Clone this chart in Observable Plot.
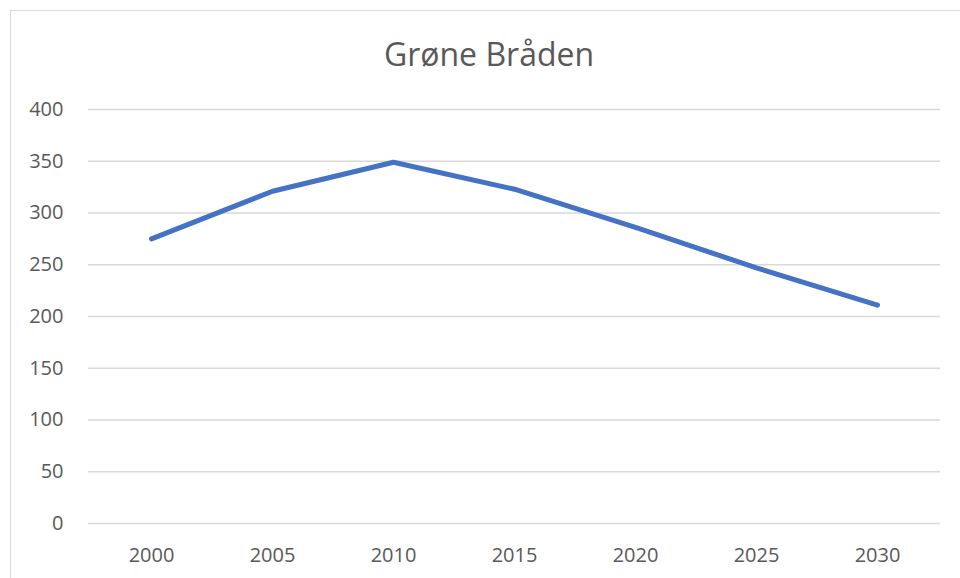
<!DOCTYPE html>
<html>
<head>
<meta charset="utf-8">
<script src="https://cdn.jsdelivr.net/npm/d3@7"></script>
<script src="https://cdn.jsdelivr.net/npm/@observablehq/plot@0.6"></script>
<style>
  html, body { margin: 0; padding: 0; background: #fff; }
  body { width: 960px; height: 578px; position: relative; overflow: hidden; font-family: "Open Sans", sans-serif; }
  #frame { position: absolute; left: 10px; top: 10px; width: 980px; height: 600px; border-left: 1px solid #d9d9d9; border-top: 1px solid #d9d9d9; box-sizing: border-box; }
  #title { position: absolute; left: 0; top: 34px; width: 978px; text-align: center; font-size: 32px; line-height: 40px; color: #595959; font-family: "Open Sans", sans-serif; }
  #chart { position: absolute; left: 0; top: 0; }
</style>
</head>
<body>
<div id="frame"></div>
<div id="chart"></div>
<div id="title">Grøne Bråden</div>
<script>
const years = ["2000", "2005", "2010", "2015", "2020", "2025", "2030"];
const values = [275, 321, 349, 323, 286, 247, 211];
const yTicks = [0, 50, 100, 150, 200, 250, 300, 350, 400];

const data = years.map((year, i) => ({year, value: values[i]}));

const plot = Plot.plot({
  width: 960,
  height: 578,
  marginLeft: 88,
  marginRight: 20,
  marginTop: 109,
  marginBottom: 55,
  style: {fontFamily: "'Open Sans', sans-serif", fontSize: "20px", color: "#595959", background: "transparent", overflow: "visible"},
  x: {type: "point", domain: years, padding: 0.5, label: null},
  y: {domain: [0, 400], ticks: yTicks, label: null},
  marks: [
    Plot.ruleY(yTicks, {stroke: "#d9d9d9", strokeWidth: 1.5}),
    Plot.axisX({tickSize: 0, tickPadding: 24, fill: "#595959", label: null, fontSize: 20}),
    Plot.axisY({ticks: yTicks, tickSize: 0, tickPadding: 25, fill: "#595959", label: null, fontSize: 20}),
    Plot.line(data, {x: "year", y: "value", stroke: "#4472C4", strokeWidth: 5, strokeLinecap: "round", strokeLinejoin: "round"})
  ]
});
document.getElementById("chart").appendChild(plot);
</script>
</body>
</html>
